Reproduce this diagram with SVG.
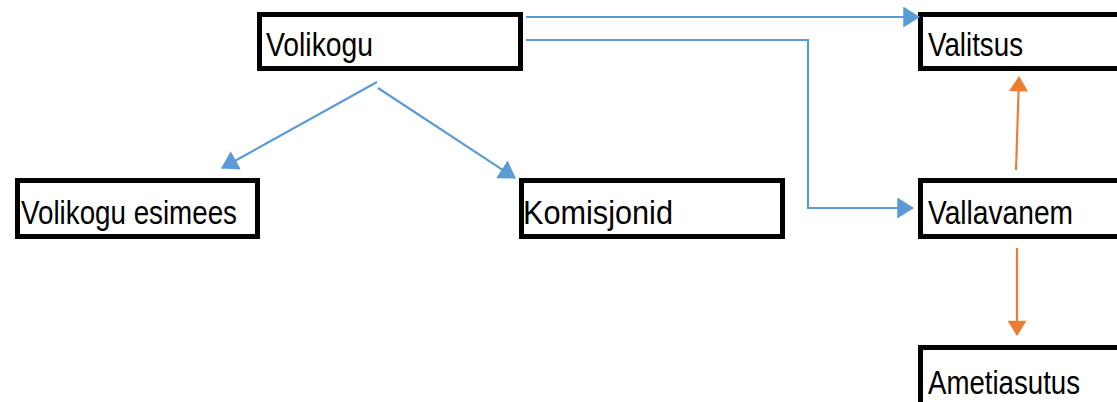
<svg xmlns="http://www.w3.org/2000/svg" width="1117" height="402" viewBox="0 0 1117 402">
<style>
.box{fill:#fff;stroke:#000;stroke-width:5}
.lbl{font-family:"Liberation Sans",Arial,sans-serif;font-size:34px;fill:#000}
.blue{fill:none;stroke:#5B9BD5;stroke-width:2.2}
.orange{fill:none;stroke:#ED7D31;stroke-width:2.2}
</style>
<defs>
<marker id="ab" viewBox="0 0 16 20" refX="15" refY="10" markerWidth="17" markerHeight="21" markerUnits="userSpaceOnUse" orient="auto"><path d="M0,0 L16,10 L0,20 z" fill="#5B9BD5"/></marker>
<marker id="ao" viewBox="0 0 16 20" refX="15" refY="10" markerWidth="22" markerHeight="19" markerUnits="userSpaceOnUse" orient="auto"><path d="M0,0 L16,10 L0,20 z" fill="#ED7D31"/></marker>
</defs>
<rect width="1117" height="402" fill="#fff"/>
<g id="volikogu"><rect class="box" x="259.5" y="14.5" width="261" height="54"/><text class="lbl" x="266" y="56" textLength="107" lengthAdjust="spacingAndGlyphs">Volikogu</text></g>
<g id="valitsus"><rect class="box" x="920.5" y="14.5" width="300" height="54"/><text class="lbl" x="928" y="56" textLength="95" lengthAdjust="spacingAndGlyphs">Valitsus</text></g>
<g id="esimees"><rect class="box" x="17.5" y="180.5" width="240" height="56"/><text class="lbl" x="21" y="224" textLength="216" lengthAdjust="spacingAndGlyphs">Volikogu esimees</text></g>
<g id="komisjonid"><rect class="box" x="521.5" y="180.5" width="261" height="56"/><text class="lbl" x="523" y="224" textLength="150" lengthAdjust="spacingAndGlyphs">Komisjonid</text></g>
<g id="vallavanem"><rect class="box" x="920.5" y="180.5" width="300" height="56"/><text class="lbl" x="928" y="224" textLength="145" lengthAdjust="spacingAndGlyphs">Vallavanem</text></g>
<g id="ametiasutus"><rect class="box" x="920.5" y="347.5" width="300" height="100"/><text class="lbl" x="928" y="394" textLength="152" lengthAdjust="spacingAndGlyphs">Ametiasutus</text></g>
<g id="connectors">
<path class="blue" d="M526,17 L919,17" marker-end="url(#ab)"/>
<path class="blue" d="M526,40 L808,40 L808,208 L913,208" marker-end="url(#ab)"/>
<path class="blue" d="M377,82 L222,168" marker-end="url(#ab)"/>
<path class="blue" d="M378,88 L515,178" marker-end="url(#ab)"/>
<path class="orange" d="M1016,170 L1019,77" marker-end="url(#ao)"/>
<path class="orange" d="M1017,248 L1017,335" marker-end="url(#ao)"/>
</g>
</svg>
